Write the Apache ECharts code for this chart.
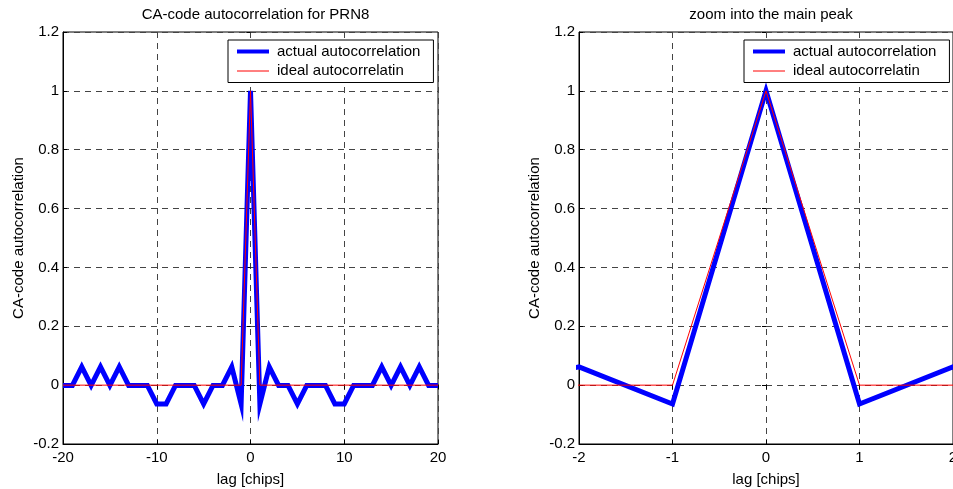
<!DOCTYPE html>
<html>
<head>
<meta charset="utf-8">
<script src="https://cdn.jsdelivr.net/npm/echarts@6/dist/echarts.min.js"></script>
<style>html,body{margin:0;padding:0;background:#fff}#c{width:953px;height:489px}</style>
</head>
<body>
<div id="c"></div>
<script>
// ---- data ----
const titles = ['CA-code autocorrelation for PRN8', 'zoom into the main peak'];
const seriesNames = ['actual autocorrelation', 'ideal autocorrelatin'];
const yAxisName = 'CA-code autocorrelation';
const xAxisName = 'lag [chips]';
const lags = [-20,-19,-18,-17,-16,-15,-14,-13,-12,-11,-10,-9,-8,-7,-6,-5,-4,-3,-2,-1,0,1,2,3,4,5,6,7,8,9,10,11,12,13,14,15,16,17,18,19,20];
const actual = [-0.001,-0.001,0.062,-0.001,0.062,-0.001,0.062,-0.001,-0.001,-0.001,-0.064,-0.064,-0.001,-0.001,-0.001,-0.064,-0.001,-0.001,0.062,-0.064,1,-0.064,0.062,-0.001,-0.001,-0.064,-0.001,-0.001,-0.001,-0.064,-0.064,-0.001,-0.001,-0.001,0.062,-0.001,0.062,-0.001,0.062,-0.001,-0.001];
const idealLags = [-20,-1,0,1,20];
const ideal = [0,0,1,0,0];
const xRanges = [[-20,20,10],[-2,2,1]];
const yRange = [-0.2,1.2,0.2];

// ---- chart ----
const FONT = 'Liberation Sans';
const FS = 15;
const BLUE = '#0000ff', RED = '#ff0000';
const chart = echarts.init(document.getElementById('c'), null, {renderer:'canvas'});
const grids = [
  {left:63, right:515, top:32, bottom:45},
  {left:579, right:0, top:32, bottom:45}
];
const legendLefts = [228, 744];
const titleCenters = [250.5, 766];
const actualPts = lags.map((l,i)=>[l, actual[i]]);
const idealPts = idealLags.map((l,i)=>[l, ideal[i]]);
const gridLine = {show:true, lineStyle:{color:'#444', type:[6,5], width:1}};
const opt = {
  animation:false,
  backgroundColor:'#fff',
  textStyle:{fontFamily:FONT},
  title: titles.map((t,i)=>({text:t, left:titleCenters[i], top:2, textAlign:'center',
    textStyle:{fontFamily:FONT, fontSize:FS, fontWeight:'normal', color:'#000'}})),
  grid: grids.map(g=>Object.assign({show:true, borderColor:'#000', borderWidth:1, backgroundColor:'#fff', outerBoundsMode:'none', containLabel:false}, g)),
  legend: legendLefts.map(l=>({
    show:true, left:l, top:40, orient:'vertical', backgroundColor:'#fff', borderColor:'#000', borderWidth:1,
    padding:[4,13,4,7], itemGap:4.5, itemWidth:32, itemHeight:14, z:10,
    textStyle:{fontFamily:FONT, fontSize:FS, color:'#000', padding:[0,0,0,3]},
    itemStyle:{opacity:0},
    data:[{name:seriesNames[0], lineStyle:{width:4, color:BLUE}, itemStyle:{opacity:0}},
          {name:seriesNames[1], lineStyle:{width:1, color:RED}, itemStyle:{opacity:0}}]
  })),
  xAxis: [],
  yAxis: [],
  series: []
};
for (let i=0;i<2;i++){
  const [mn,mx,iv] = xRanges[i];
  opt.xAxis.push({type:'value', gridIndex:i, min:mn, max:mx, interval:iv, position:'bottom',
    name:xAxisName, nameLocation:'middle', nameGap:28,
    nameTextStyle:{fontFamily:FONT, fontSize:FS, color:'#000'},
    axisLine:{show:true, onZero:false, lineStyle:{color:'#000', width:1}},
    axisTick:{show:true, inside:true, length:4, lineStyle:{color:'#000'}},
    axisLabel:{fontFamily:FONT, fontSize:FS, color:'#000', margin:6, showMinLabel:true, showMaxLabel:true},
    splitLine:gridLine});
  opt.xAxis.push({type:'value', gridIndex:i, min:mn, max:mx, interval:iv, position:'top',
    axisLine:{show:false}, axisTick:{show:true, inside:true, length:4, lineStyle:{color:'#000'}},
    axisLabel:{show:false}, splitLine:{show:false}});
  opt.yAxis.push({type:'value', gridIndex:i, min:yRange[0], max:yRange[1], interval:yRange[2], position:'left',
    name:yAxisName, nameLocation:'middle', nameGap:37,
    nameTextStyle:{fontFamily:FONT, fontSize:FS, color:'#000'},
    axisLine:{show:true, onZero:false, lineStyle:{color:'#000', width:1}},
    axisTick:{show:true, inside:true, length:4, lineStyle:{color:'#000'}},
    axisLabel:{fontFamily:FONT, fontSize:FS, color:'#000', margin:4, showMinLabel:true, showMaxLabel:true},
    splitLine:gridLine});
  opt.yAxis.push({type:'value', gridIndex:i, min:yRange[0], max:yRange[1], interval:yRange[2], position:'right',
    axisLine:{show:false}, axisTick:{show:true, inside:true, length:4, lineStyle:{color:'#000'}},
    axisLabel:{show:false}, splitLine:{show:false}});
  opt.series.push({type:'line', name:seriesNames[0], xAxisIndex:2*i, yAxisIndex:2*i, data:actualPts,
    symbol:'none', clip:true, itemStyle:{color:BLUE}, lineStyle:{color:BLUE, width:5, join:'miter', miterLimit:10}, z:3});
  opt.series.push({type:'line', name:seriesNames[1], xAxisIndex:2*i, yAxisIndex:2*i, data:idealPts,
    symbol:'none', clip:true, itemStyle:{color:RED}, lineStyle:{color:RED, width:1}, z:4});
}
chart.setOption(opt);
</script>
</body>
</html>
